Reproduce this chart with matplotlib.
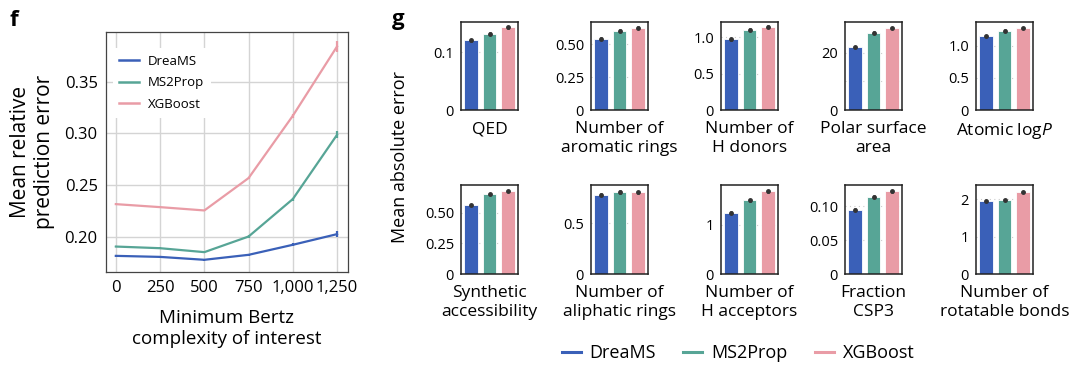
import numpy as np
import matplotlib.pyplot as plt
from matplotlib.lines import Line2D

plt.rcParams['font.family'] = ['Open Sans', 'DejaVu Sans']
plt.rcParams['mathtext.fontset'] = 'custom'
plt.rcParams['mathtext.rm'] = 'Open Sans'
plt.rcParams['mathtext.it'] = 'Open Sans:italic'

models = ['DreaMS', 'MS2Prop', 'XGBoost']
colors = ['#3a60b8', '#57a596', '#e99ca6']

# panel f
bertz = [0, 250, 500, 750, 1000, 1250]
bertz_labels = ['0', '250', '500', '750', '1,000', '1,250']
err_dreams = [0.1816, 0.1806, 0.1778, 0.1826, 0.1923, 0.2026]
err_ms2prop = [0.1906, 0.1890, 0.1852, 0.2003, 0.2365, 0.2986]
err_xgb = [0.2316, 0.2287, 0.2255, 0.2568, 0.3170, 0.3840]
sd_dreams = [0.0008, 0.0008, 0.0008, 0.0010, 0.0015, 0.0030]
sd_ms2prop = [0.0008, 0.0008, 0.0008, 0.0010, 0.0015, 0.0035]
sd_xgb = [0.0008, 0.0008, 0.0008, 0.0012, 0.0020, 0.0050]

# panel g
props = ['QED', 'Number of\naromatic rings', 'Number of\nH donors',
         'Polar surface\narea', 'Atomic log$\\it{P}$',
         'Synthetic\naccessibility', 'Number of\naliphatic rings',
         'Number of\nH acceptors', 'Fraction\nCSP3',
         'Number of\nrotatable bonds']
mae = [
    [0.121, 0.133, 0.1436],
    [0.540, 0.601, 0.624],
    [0.976, 1.108, 1.146],
    [22.1, 27.1, 28.8],
    [1.153, 1.232, 1.274],
    [0.5635, 0.652, 0.677],
    [0.778, 0.807, 0.804],
    [1.248, 1.504, 1.688],
    [0.095, 0.114, 0.122],
    [1.954, 1.990, 2.200],
]
mae_err = [
    [0.002, 0.002, 0.002],
    [0.010, 0.010, 0.010],
    [0.020, 0.020, 0.020],
    [0.4, 0.4, 0.4],
    [0.020, 0.020, 0.020],
    [0.010, 0.010, 0.010],
    [0.015, 0.015, 0.015],
    [0.030, 0.030, 0.030],
    [0.002, 0.002, 0.002],
    [0.030, 0.030, 0.030],
]
ytops = [0.153, 0.667, 1.212, 30.8, 1.368, 0.7265, 0.876, 1.816, 0.1315, 2.385]
yticks = [
    ([0, 0.1], ['0', '0.1']),
    ([0, 0.25, 0.5], ['0', '0.25', '0.50']),
    ([0, 0.5, 1.0], ['0', '0.5', '1.0']),
    ([0, 10, 20], ['0', '', '20']),
    ([0, 0.5, 1.0], ['0', '0.5', '1.0']),
    ([0, 0.25, 0.5], ['0', '0.25', '0.50']),
    ([0, 0.5], ['0', '0.5']),
    ([0, 1], ['0', '1']),
    ([0, 0.05, 0.1], ['0', '0.05', '0.10']),
    ([0, 1, 2], ['0', '1', '2']),
]

W, H = 1080, 372
fig = plt.figure(figsize=(W / 100, H / 100), dpi=100)


def rect(left, top, right, bottom):
    return [left / W, 1 - bottom / H, (right - left) / W, (bottom - top) / H]


# ---- panel f ----
ax = fig.add_axes(rect(106, 32, 348, 272))
for vals, sd, c in zip([err_dreams, err_ms2prop, err_xgb],
                       [sd_dreams, sd_ms2prop, sd_xgb], colors):
    ax.errorbar(bertz, vals, yerr=sd, color=c, lw=1.6, elinewidth=1.6,
                capsize=0)
ax.set_xlim(-56, 1312)
ax.set_ylim(0.166, 0.398)
ax.set_xticks(bertz)
ax.set_xticklabels(bertz_labels)
ax.set_yticks([0.20, 0.25, 0.30, 0.35])
ax.set_yticklabels(['0.20', '0.25', '0.30', '0.35'])
ax.grid(True, color='#d4d4d4', lw=1.0)
ax.set_axisbelow(True)
ax.tick_params(length=0, pad=6, labelsize=12)
for s in ax.spines.values():
    s.set_color('#444444')
    s.set_linewidth(0.9)
ax.set_xlabel('Minimum Bertz\ncomplexity of interest', fontsize=13.5,
              labelpad=9, linespacing=1.25)
ax.set_ylabel('Mean relative\nprediction error', fontsize=15,
              labelpad=7, linespacing=1.15)
lines = [Line2D([], [], color=c, lw=1.8) for c in colors]
leg = ax.legend(lines, models, loc='upper left', fontsize=9.5, frameon=True,
                handlelength=1.5, labelspacing=0.65, borderpad=0.5,
                handletextpad=0.7, bbox_to_anchor=(0.0, 0.96))
leg.get_frame().set_facecolor('white')
leg.get_frame().set_edgecolor('none')
leg.get_frame().set_alpha(1)
fig.text(10 / W, 1 - 20 / H, 'f', fontsize=16, fontweight='bold', va='center')

# ---- panel g ----
lefts = [461, 591, 721, 845, 976]
rows = [(22, 110), (185, 274)]
for i in range(10):
    r, c = divmod(i, 5)
    top, bottom = rows[r]
    a = fig.add_axes(rect(lefts[c], top, lefts[c] + 57, bottom))
    x = np.arange(3)
    a.bar(x, mae[i], width=0.76, color=colors, edgecolor='white', lw=0.6,
          zorder=2)
    a.errorbar(x, mae[i], yerr=mae_err[i], fmt='o', ms=2.5, color='#333333',
               elinewidth=2, capsize=0, zorder=3)
    a.set_xlim(-0.55, 2.55)
    a.set_ylim(0, ytops[i])
    a.set_xticks([])
    a.set_yticks(yticks[i][0])
    a.set_yticklabels(yticks[i][1])
    a.yaxis.grid(True, color='#cccccc', lw=0.8, linestyle=(0, (1, 3)))
    a.set_axisbelow(True)
    a.tick_params(length=0, pad=5, labelsize=10.5)
    for s in a.spines.values():
        s.set_color('#222222')
        s.set_linewidth(1.1)
    a.set_xlabel(props[i], fontsize=12.5, labelpad=8, linespacing=1.2)

fig.text(400 / W, 1 - 157 / H, 'Mean absolute error', rotation=90,
         fontsize=13, ha='center', va='center')
fig.text(392 / W, 1 - 20 / H, 'g', fontsize=16, fontweight='bold', va='center')

handles = [Line2D([], [], color=c, lw=2.2) for c in colors]
fig.legend(handles, models, loc='center', bbox_to_anchor=(738 / W, 1 - 353 / H),
           ncol=3, frameon=False, fontsize=13, handlelength=1.05,
           handletextpad=0.5, columnspacing=1.5)

fig.savefig('out.png', dpi=100)
